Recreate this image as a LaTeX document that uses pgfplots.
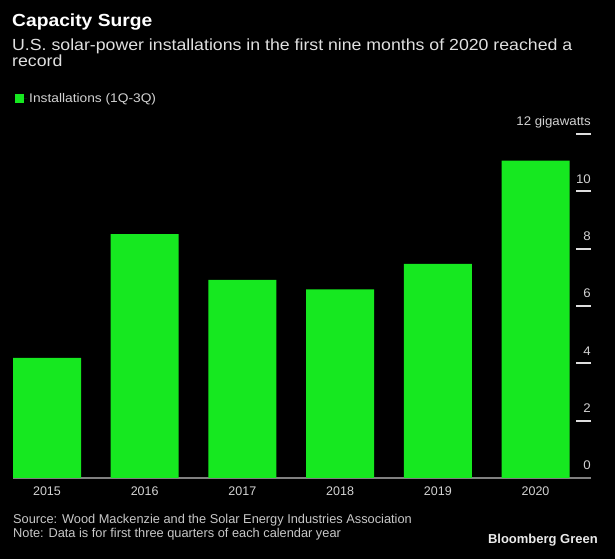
\documentclass[border=0pt]{standalone}
\usepackage{pgfplots}
\pgfplotsset{compat=1.18}
\usepackage{fontspec}
\setmainfont{Liberation Sans}
\newfontfamily\wide[FakeStretch=1.1]{Liberation Sans}
\newfontfamily\wideb[FakeStretch=1.06]{Liberation Sans}
\definecolor{barg}{RGB}{22,232,32}
\definecolor{axg}{RGB}{128,128,128}
\definecolor{tg}{RGB}{210,210,210}
\definecolor{sg}{RGB}{200,200,200}
\begin{document}
\begin{tikzpicture}
\useasboundingbox (0,0) rectangle (615bp,559bp);
\fill[black] (0,0) rectangle (615bp,559bp);
% titles
\node[anchor=base west, inner sep=0pt, text=white, font=\wide\fontsize{17.5bp}{20bp}\selectfont\bfseries] at (12bp,532bp) {Capacity Surge};
\node[anchor=base west, inner sep=0pt, text=white!88!black, font=\wide\fontsize{16.1bp}{17bp}\selectfont] at (12bp,508bp) {U.S. solar-power installations in the first nine months of 2020 reached a};
\node[anchor=base west, inner sep=0pt, text=white!88!black, font=\wide\fontsize{16.1bp}{17bp}\selectfont] at (12bp,492bp) {record};
% footer
\node[anchor=base west, inner sep=0pt, text=sg, font=\fontsize{12.8bp}{15bp}\selectfont] at (13bp,36bp) {Source: Wood Mackenzie and the Solar Energy Industries Association};
\node[anchor=base west, inner sep=0pt, text=sg, font=\fontsize{12.8bp}{15bp}\selectfont] at (13bp,22bp) {Note: Data is for first three quarters of each calendar year};
\node[anchor=base east, inner sep=0pt, text=white!92!black, font=\fontsize{13bp}{15bp}\selectfont\bfseries] at (598bp,16bp) {Bloomberg Green};
\begin{axis}[
  at={(13bp,81bp)}, anchor=south west,
  scale only axis, width=578bp, height=344bp,
  xmin=-0.348, xmax=5.568, ymin=0, ymax=12,
  axis x line=bottom, axis y line=right,
  x axis line style={-, draw=axg, line width=1.5bp},
  y axis line style={draw=none},
  xtick={0,1,2,3,4,5},
  xticklabels={2015,2016,2017,2018,2019,2020},
  xtick style={draw=none},
  xticklabel style={anchor=base, inner sep=0pt, yshift=-18bp, text=tg, font=\fontsize{12.5bp}{15bp}\selectfont},
  ytick={0,2,4,6,8,10,12},
  yticklabels={0,2,4,6,8,10,12 gigawatts},
  ytick pos=right, yticklabel pos=right,
  tick align=inside, major tick length=15bp,
  ytick style={draw=white!87!black, line width=2bp},
  yticklabel style={anchor=base east, inner sep=0pt, yshift=8bp, text=tg, font=\wideb\fontsize{12.5bp}{15bp}\selectfont},
  legend style={at={(axis description cs:0.0035,1.103)}, anchor=west, draw=none, fill=none, inner sep=0pt, text=tg, font=\wide\fontsize{12.5bp}{15bp}\selectfont},
  legend image code/.code={\fill[barg] (0bp,-4.5bp) rectangle (9bp,4.5bp); \path (0bp,0bp) -- (12bp,0bp);},
  legend cell align=left,
]
\addplot[ybar, fill=barg, draw=none, bar width=0.696] coordinates {(0,4.19) (1,8.51) (2,6.91) (3,6.58) (4,7.47) (5,11.07)};
\addlegendentry{Installations (1Q-3Q)}
\end{axis}
\end{tikzpicture}
\end{document}
